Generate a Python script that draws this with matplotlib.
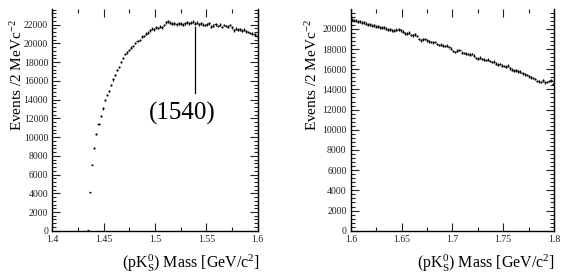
import matplotlib
matplotlib.use("Agg")
import matplotlib.pyplot as plt
import numpy as np
from matplotlib.ticker import MultipleLocator

plt.rcParams["font.family"] = ["Liberation Serif", "DejaVu Serif"]
plt.rcParams["mathtext.fontset"] = "custom"
plt.rcParams["mathtext.rm"] = "Liberation Serif"
plt.rcParams["mathtext.it"] = "Liberation Serif:italic"

# Left histogram: 1.40 - 1.60 GeV, 2 MeV bins
left_range = (1.4, 1.6)
left_counts = [0] * 17 + [
    80, 4100, 7050, 8800, 10350, 11350, 12200, 13050, 13950, 14450,
    14950, 15550, 16150, 16600, 17150, 17500, 18000, 18450, 18850, 19050,
    19300, 19550, 19700, 20050, 20250, 20350, 20700, 20800, 21050, 21150,
    21400, 21550, 21500, 21700, 21650, 21800, 21700, 21950, 22250, 22350,
    22200, 22100, 22150, 22050, 22150, 22100, 22000, 22150, 22250, 22150,
    22200, 22300, 22100, 22200, 22050, 22150, 22000, 21950, 22050, 22150,
    21800, 21900, 22050, 21850, 22000, 21750, 21950, 21850, 21800, 21950,
    21700, 21400, 21550, 21450, 21500, 21350, 21450, 21300, 21200, 21100,
    21050, 20950, 20800,
]

# Right histogram: 1.60 - 1.80 GeV, 2 MeV bins
right_range = (1.6, 1.8)
right_counts = [
    20900, 20850, 20800, 20700, 20750, 20600, 20650, 20500, 20400, 20450,
    20300, 20350, 20200, 20250, 20150, 20100, 20150, 20000, 19900, 19950,
    19850, 19800, 19900, 19950, 19850, 19700, 19550, 19500, 19600, 19400,
    19350, 19450, 19300, 19000, 18850, 18950, 19000, 18850, 18750, 18700,
    18650, 18700, 18500, 18400, 18450, 18350, 18300, 18350, 18200, 18050,
    17800, 17700, 17850, 17900, 17650, 17600, 17550, 17500, 17450, 17500,
    17350, 17100, 17050, 17150, 17000, 16950, 16900, 16950, 16800, 16700,
    16750, 16550, 16450, 16500, 16350, 16300, 16250, 16350, 16100, 15950,
    15850, 15900, 15800, 15750, 15600, 15500, 15450, 15300, 15200, 15150,
    15050, 14850, 14800, 14750, 14900, 14700, 14750, 14850, 14900, 14550,
]

left_ticks = [1.4, 1.45, 1.5, 1.55, 1.6]
right_ticks = [1.6, 1.65, 1.7, 1.75, 1.8]

peak_label = "(1540)"
peak_mass = 1.539
peak_line = (14720, 21780)
peak_text_pos = (1.527, 12550)

xlabel = r"(pK$_\mathrm{S}^{0}$) Mass [GeV/c$^{2}$]"
ylabel = r"Events /2 MeVc$^{-2}$"


def draw_hist(ax, counts, xrange, ticks, ymax):
    counts = np.array(counts, dtype=float)
    edges = np.linspace(xrange[0], xrange[1], len(counts) + 1)
    centers = 0.5 * (edges[:-1] + edges[1:])
    half = 0.5 * (edges[1] - edges[0])
    mask = counts > 0
    ax.errorbar(centers[mask], counts[mask], xerr=half, yerr=np.sqrt(counts[mask]),
                fmt="none", ecolor="black", elinewidth=0.9, capsize=0)
    ax.set_xlim(*xrange)
    ax.set_ylim(0, ymax)
    ax.set_xticks(ticks)
    ax.set_xticklabels([f"{t:g}" for t in ticks])
    ax.xaxis.set_minor_locator(MultipleLocator(0.025))
    ax.yaxis.set_major_locator(MultipleLocator(2000))
    ax.yaxis.set_minor_locator(MultipleLocator(400))
    ax.tick_params(which="both", direction="in", top=True, right=True,
                   labelsize=7, width=0.8, pad=3, colors="#222222")
    ax.tick_params(which="major", length=6)
    ax.tick_params(which="minor", length=3)
    ax.spines["top"].set_visible(False)
    for s in ["left", "bottom", "right"]:
        ax.spines[s].set_linewidth(1.0)


fig = plt.figure(figsize=(5.75, 2.78), dpi=100)
ax1 = fig.add_axes([0.091, 0.170, 0.357, 0.797])
ax2 = fig.add_axes([0.610, 0.170, 0.3535, 0.797])

draw_hist(ax1, left_counts, left_range, left_ticks, 23650)
draw_hist(ax2, right_counts, right_range, right_ticks, 21950)

ax1.plot([peak_mass, peak_mass], peak_line, color="black", lw=0.9)
ax1.text(peak_text_pos[0], peak_text_pos[1], peak_label, fontsize=18,
         ha="center", va="center")

# axis titles placed ROOT-style, aligned to the upper / right ends
for xl, yl in [(17, 260), (312, 555)]:
    fig.text(xl / 575, 1 - 19 / 278, ylabel, rotation=90, fontsize=11,
             ha="center", va="top")
    fig.text(yl / 575, 1 - 263 / 278, xlabel, fontsize=11.5,
             ha="right", va="center")

fig.savefig("out.png", dpi=100)
